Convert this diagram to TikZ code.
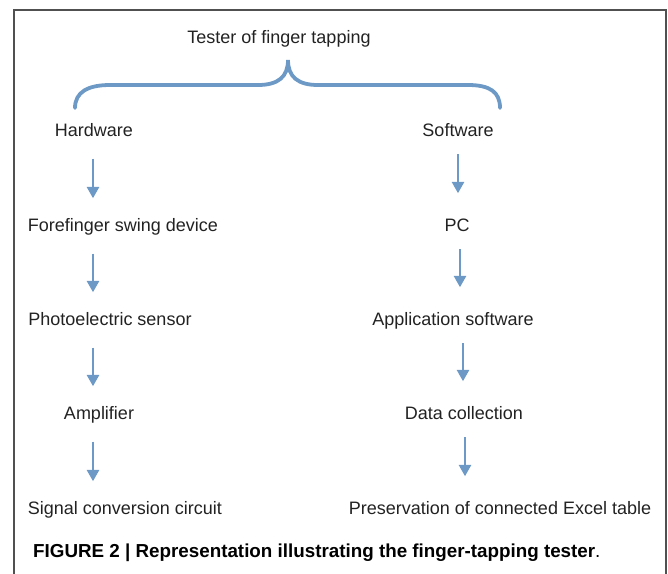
\documentclass[tikz,border=0pt]{standalone}
\usepackage{fontspec}
\setmainfont{Liberation Sans}
\usetikzlibrary{arrows.meta}
\definecolor{arrowblue}{RGB}{108,153,197}
\definecolor{txt}{RGB}{34,34,34}
\definecolor{framegray}{RGB}{80,80,80}
\tikzset{
  lbl/.style={inner sep=0pt, text height=13pt, text depth=0pt, text=txt,
    font=\fontsize{18}{21}\selectfont},
  arr/.style={draw=arrowblue, line width=2.8pt,
    -{Triangle[width=12pt,length=11.5pt]}},
  arrL/.style={arr, shorten <=22pt, shorten >=20pt},
  arrR/.style={arr, shorten <=17.5pt, shorten >=25pt},
  bracestyle/.style={draw=arrowblue, line width=3.8pt, line cap=round},
  framestyle/.style={draw=framegray, line width=1.4pt}
}
\begin{document}
\begin{tikzpicture}[x=1pt,y=-1pt]
\useasboundingbox (0,0) rectangle (668,573);
\draw[framestyle] (14,575) -- (14,10) -- (666,10) -- (666,575);

\node[lbl] (title) at (279,37) {Tester of finger tapping};
\node[lbl] (hw) at (94,130) {Hardware};
\node[lbl] (sw) at (458,130) {Software};
\node[lbl] (fs) at (123,225) {Forefinger swing device};
\node[lbl] (ph) at (110,319) {Photoelectric sensor};
\node[lbl] (amp) at (99,413) {Amplifier};
\node[lbl] (sig) at (125,508) {Signal conversion circuit};
\node[lbl] (pc) at (457,225) {PC};
\node[lbl] (app) at (453,319) {Application software};
\node[lbl] (dc) at (464,413) {Data collection};
\node[lbl] (pres) at (500,508) {Preservation of connected Excel table};
\node[inner sep=0pt, anchor=west, text=black, font=\fontsize{18.8}{22}\selectfont] (cap) at (33,553)
  {\textbf{FIGURE 2 | Representation illustrating the finger-tapping tester}.};

% brace
\draw[bracestyle] (75,108) .. controls (75,92) and (88,85) .. (110,85) -- (258,85)
  .. controls (278,85) and (288,77) .. (288,60)
  .. controls (288,77) and (298,85) .. (318,85) -- (468,85)
  .. controls (490,85) and (500,92) .. (500,108);

% columns for arrows
\coordinate (cl) at (93,0);
\coordinate (r1) at (458,0);
\coordinate (r2) at (460,0);
\coordinate (r3) at (463,0);
\coordinate (r4) at (465,0);

\draw[arrL] (hw.south -| cl) -- (fs.north -| cl);
\draw[arrL] (fs.south -| cl) -- (ph.north -| cl);
\draw[arrL] (ph.south -| cl) -- (amp.north -| cl);
\draw[arrL] (amp.south -| cl) -- (sig.north -| cl);

\draw[arrR] (sw.south -| r1) -- (pc.north -| r1);
\draw[arrR] (pc.south -| r2) -- (app.north -| r2);
\draw[arrR] (app.south -| r3) -- (dc.north -| r3);
\draw[arrR] (dc.south -| r4) -- (pres.north -| r4);
\end{tikzpicture}
\end{document}
